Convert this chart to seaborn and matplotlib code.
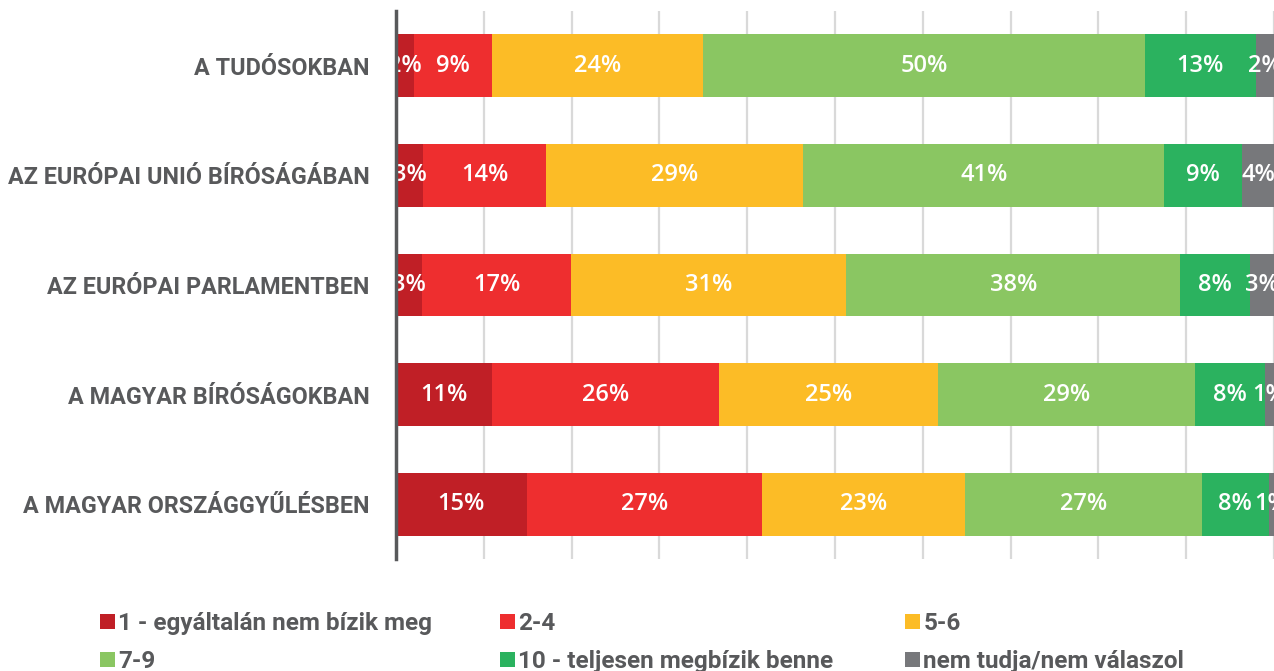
import numpy as np
import pandas as pd
import matplotlib
matplotlib.use("Agg")
import matplotlib.pyplot as plt
from matplotlib.patches import Patch
import seaborn as sns

categories = ["A TUDÓSOKBAN", "AZ EURÓPAI UNIÓ BÍRÓSÁGÁBAN", "AZ EURÓPAI PARLAMENTBEN",
              "A MAGYAR BÍRÓSÁGOKBAN", "A MAGYAR ORSZÁGGYŰLÉSBEN"]
series_names = ["1 - egyáltalán nem bízik meg", "2-4", "5-6", "7-9",
                "10 - teljesen megbízik benne", "nem tudja/nem válaszol"]
s1 = [2.0, 3.1, 3.0, 10.9, 14.9]
s2 = [8.9, 14.0, 16.9, 25.9, 26.8]
s3 = [24.1, 29.3, 31.4, 24.9, 23.1]
s4 = [50.3, 41.1, 38.0, 29.3, 27.0]
s5 = [12.6, 8.9, 8.0, 8.0, 7.6]
s6 = [2.1, 3.6, 2.7, 1.0, 0.6]
colors = ["#C01F26", "#EE2E2F", "#FCBC26", "#8AC662", "#2BB25F", "#77787B"]
text_color = "#58595B"

sns.set_theme(style="white")
plt.rcParams['font.family'] = ['Roboto', 'DejaVu Sans']

series = [s1, s2, s3, s4, s5, s6]
vals = np.array(series)  # shape (6,5)
cum = np.cumsum(vals, axis=0)
starts = cum - vals

fig = plt.figure(figsize=(12.74, 6.71), dpi=100)
ax = fig.add_axes([396/1274, 1 - 559/671, 1 - 396/1274, (559 - 11)/671])

# draw cumulative bars from the longest to the shortest so they stack
for i in range(len(series) - 1, -1, -1):
    df = pd.DataFrame({"cat": categories, "val": cum[i]})
    sns.barplot(data=df, x="val", y="cat", order=categories, orient="h",
                color=colors[i], saturation=1, width=0.574, errorbar=None,
                edgecolor="none", linewidth=0, ax=ax, zorder=2)

# value labels
for i in range(len(series)):
    for j in range(len(categories)):
        c = starts[i, j] + vals[i, j] / 2
        ax.text(c, j, f"{int(round(vals[i, j]))}%", ha="center", va="center",
                color="white", fontsize=17, fontweight="semibold",
                family=["Open Sans", "DejaVu Sans"], zorder=3)

ax.set_xlim(0, 100)
ax.set_ylim(4.5, -0.5)
ax.set_xticks(np.arange(0, 101, 10))
ax.set_xticklabels([])
ax.xaxis.grid(True, color="#D9D9D9", linewidth=1.6)
ax.yaxis.grid(False)
ax.set_axisbelow(True)
ax.set_xlabel("")
ax.set_ylabel("")
for s in ["top", "right", "bottom"]:
    ax.spines[s].set_visible(False)
ax.spines["left"].set_color(text_color)
ax.spines["left"].set_linewidth(2.5)
ax.spines["left"].set_zorder(5)
ax.tick_params(axis="y", length=0, pad=19, labelsize=16.8, labelcolor=text_color)
ax.tick_params(axis="x", length=0)
for lab in ax.get_yticklabels():
    lab.set_fontweight("bold")

# legend: three columns, two rows
handles = [Patch(facecolor=c, edgecolor="none") for c in colors]
col_x = [100/1274, 500/1274, 905/1274]
for k in range(3):
    idx = [k, k + 3]
    fig.legend([handles[i] for i in idx], [series_names[i] for i in idx],
               loc="upper left", bbox_to_anchor=(col_x[k], 1 - 612/671),
               frameon=False, borderpad=0, borderaxespad=0,
               handlelength=0.6, handleheight=0.6, handletextpad=0.15,
               labelspacing=0.62,
               prop={"size": 17.5, "weight": "bold"}, labelcolor=text_color)

fig.savefig("out.png", dpi=100)
